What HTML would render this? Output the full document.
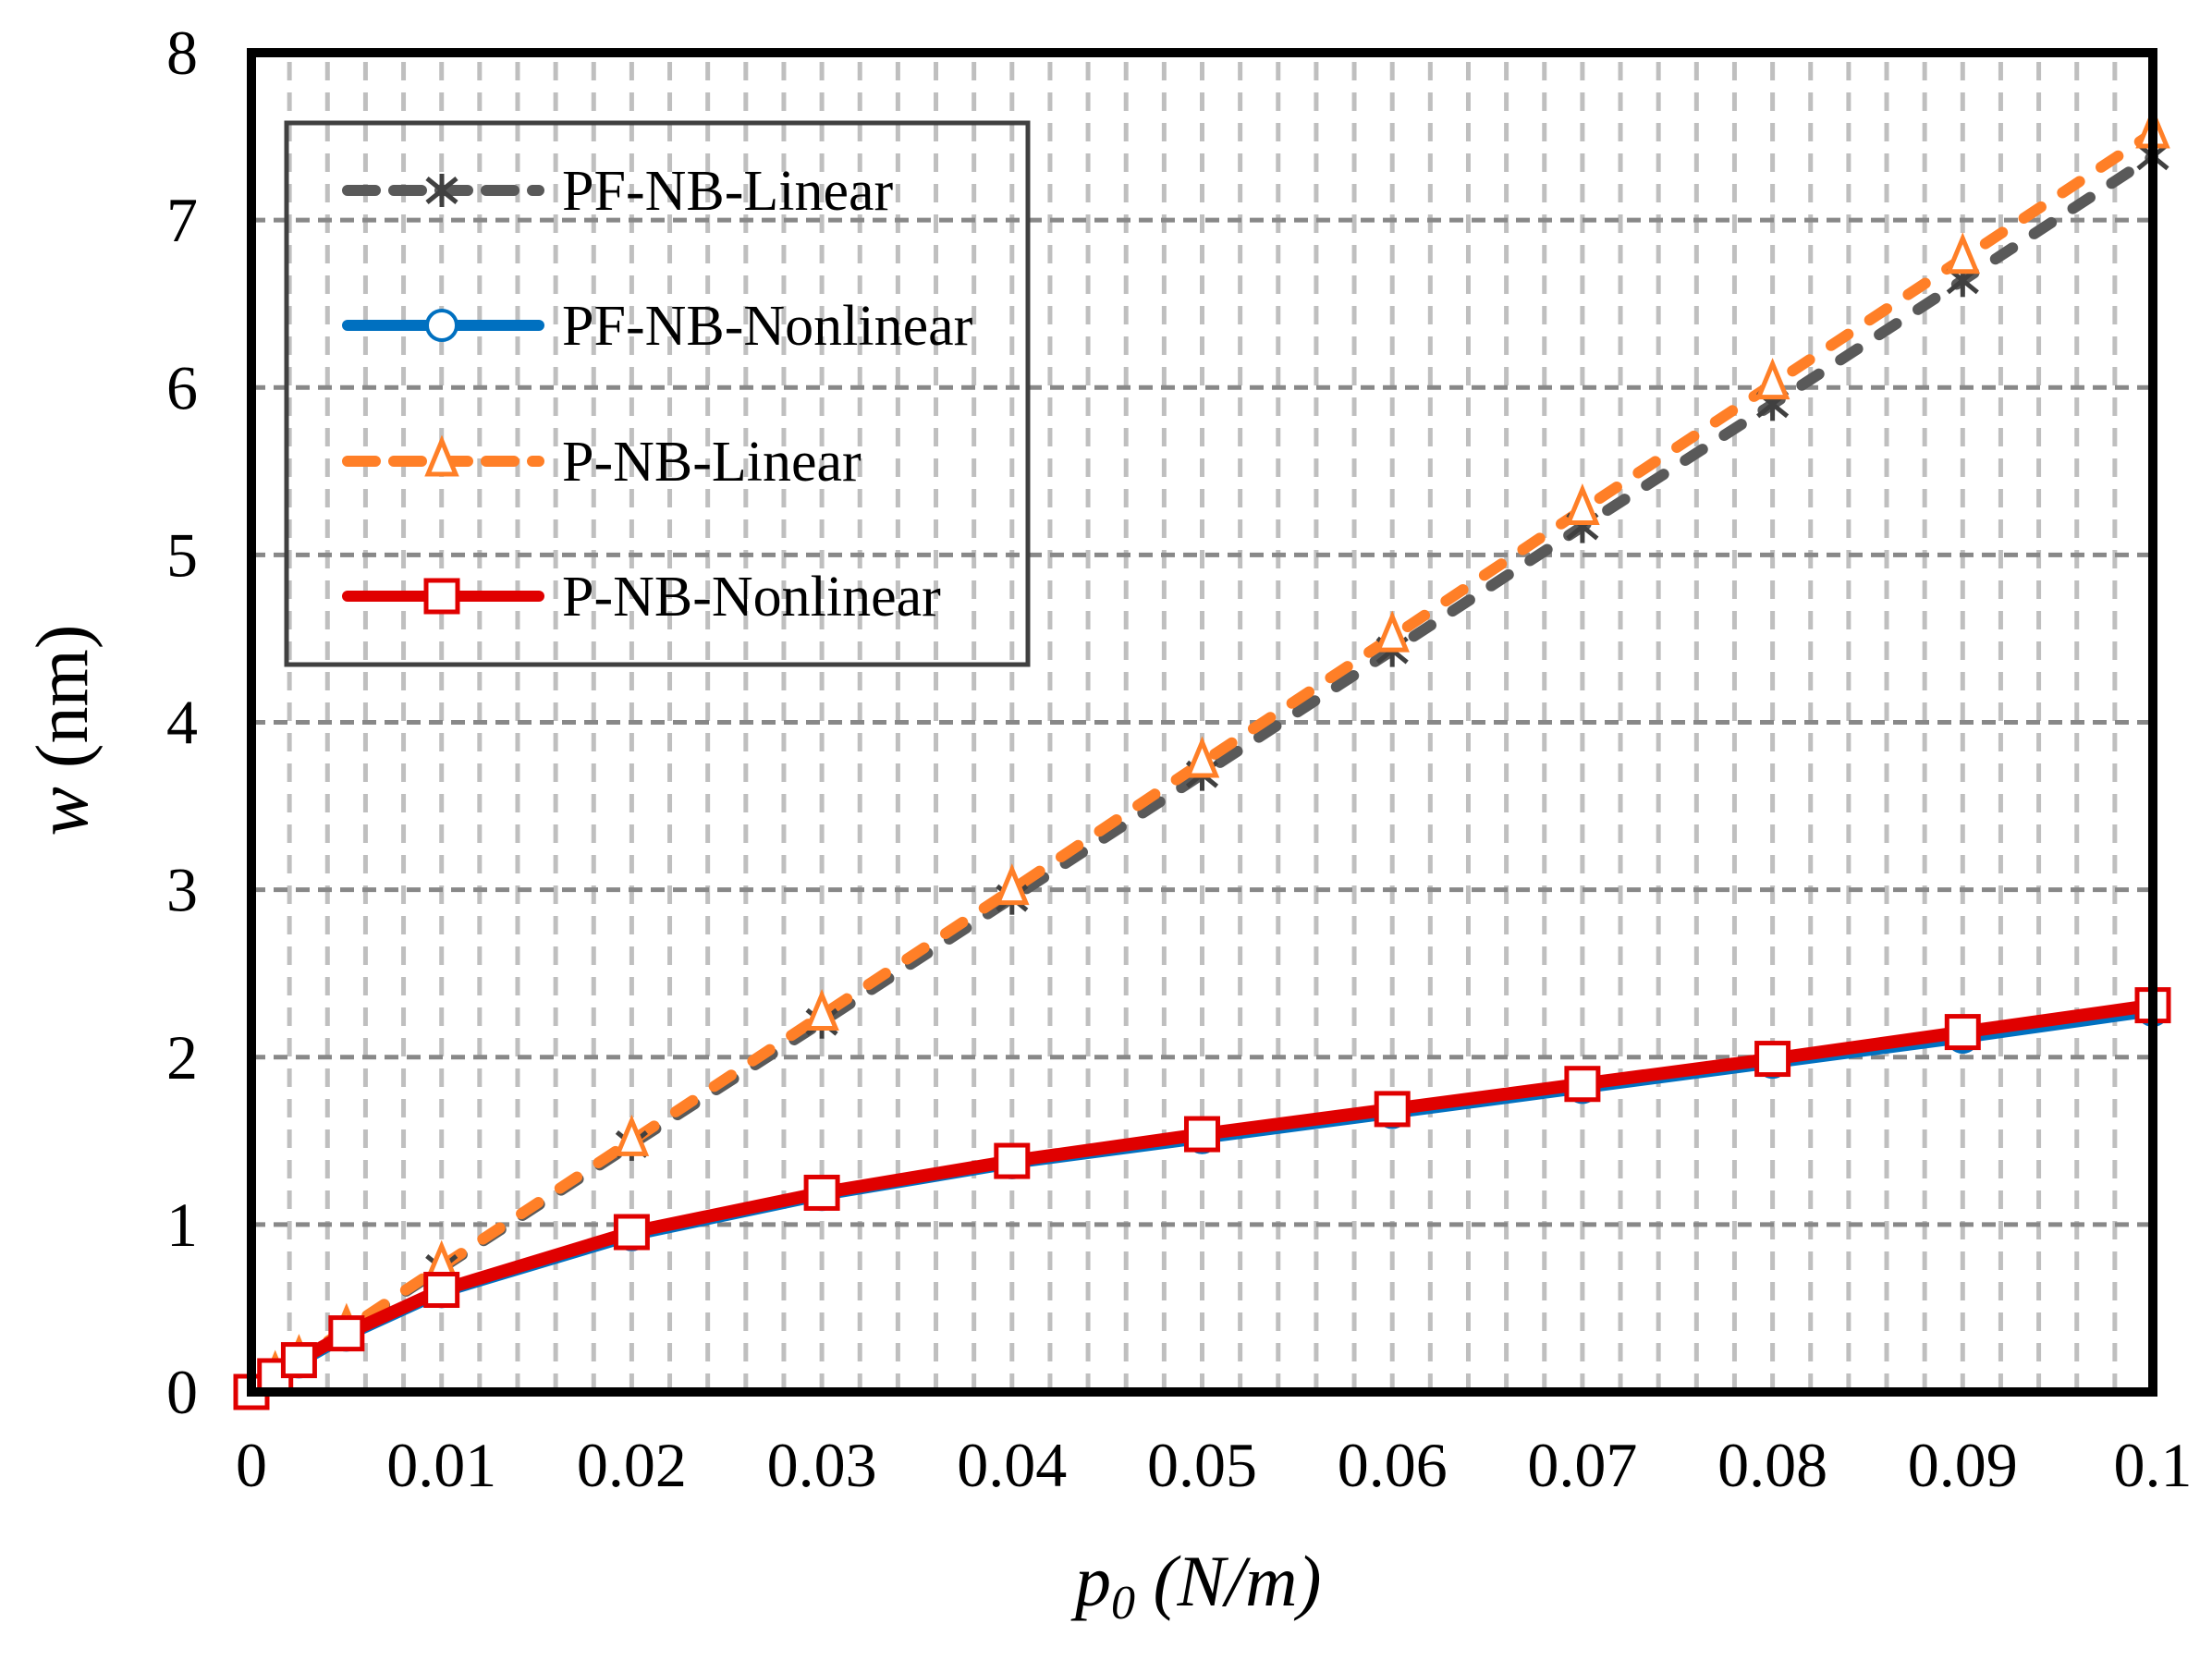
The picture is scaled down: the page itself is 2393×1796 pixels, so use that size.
<!DOCTYPE html>
<html><head><meta charset="utf-8"><style>
html,body{margin:0;padding:0;background:#fff;}
svg{display:block;}
text{font-family:"Liberation Serif",serif;fill:#000;}
</style></head><body>
<svg id="chart" width="2393" height="1796" viewBox="0 0 2393 1796" xmlns="http://www.w3.org/2000/svg">
<g id="grid"></g>
<g id="series"></g>
<g id="axes"></g>
<g id="legend"></g>
<text x="1163" y="1737" font-size="78" font-style="italic">p<tspan font-size="52" dy="14">0</tspan><tspan dy="-14"> (N/m)</tspan></text>
<text transform="translate(94,790) rotate(-90)" text-anchor="middle" font-size="80"><tspan font-style="italic">w</tspan> (nm)</text>
</svg>
<script>
const xValues = [0, 0.00125, 0.0025, 0.005, 0.01, 0.02, 0.03, 0.04, 0.05, 0.06, 0.07, 0.08, 0.09, 0.1];
const pfLinear = [0, 0.092, 0.185, 0.37, 0.74, 1.48, 2.21, 2.95, 3.69, 4.43, 5.17, 5.9, 6.64, 7.38];
const pfNonlinear = [0, 0.09, 0.18, 0.34, 0.6, 0.94, 1.18, 1.37, 1.52, 1.67, 1.82, 1.97, 2.12, 2.28];
const pLinear = [0, 0.094, 0.19, 0.375, 0.75, 1.5, 2.25, 3.0, 3.76, 4.51, 5.27, 6.02, 6.77, 7.52];
const pNonlinear = [0, 0.094, 0.19, 0.35, 0.61, 0.955, 1.19, 1.38, 1.54, 1.69, 1.84, 1.99, 2.15, 2.31];
const xTicks = ["0","0.01","0.02","0.03","0.04","0.05","0.06","0.07","0.08","0.09","0.1"];
const yTicks = ["0","1","2","3","4","5","6","7","8"];
const legendNames = ["PF-NB-Linear","PF-NB-Nonlinear","P-NB-Linear","P-NB-Nonlinear"];

const NS="http://www.w3.org/2000/svg";
const L=272,R=2329,T=57,B=1506;
const X=v=>L+(v/0.1)*(R-L);
const Y=v=>B-(v/8)*(B-T);
function mk(tag,attrs,parent){const e=document.createElementNS(NS,tag);for(const k in attrs)e.setAttribute(k,attrs[k]);parent.appendChild(e);return e;}
const grid=document.getElementById('grid'),series=document.getElementById('series'),axes=document.getElementById('axes'),legend=document.getElementById('legend');

for(let i=1;i<50;i++){const x=X(i*0.002);
 const g=mk('line',{x1:x,x2:x,y1:T+10,y2:B,stroke:'#bfbfbf','stroke-width':5,'stroke-dasharray':'20 13'},grid);
 
 }
for(let i=1;i<8;i++){const y=Y(i);
 const g=mk('line',{x1:L,x2:R,y1:y,y2:y,stroke:'#888','stroke-width':5,'stroke-dasharray':'15 9'},grid);
 
 }

function pathD(ys){return ys.map((v,i)=>(i?'L':'M')+X(xValues[i])+' '+Y(v)).join(' ');}
function star(cx,cy,parent,name){const g=mk('g',{stroke:'#404040','stroke-width':5},parent);
 
 
 mk('line',{x1:cx,x2:cx,y1:cy-18,y2:cy+18},g);
 mk('line',{x1:cx-16,x2:cx+16,y1:cy-13,y2:cy+13},g);
 mk('line',{x1:cx-16,x2:cx+16,y1:cy+13,y2:cy-13},g);}
function tri(cx,cy,parent,name){const e=mk('polygon',{points:`${cx},${cy-22} ${cx-15},${cy+14} ${cx+15},${cy+14}`,fill:'#fff',stroke:'#ff7f27','stroke-width':5},parent);
 
 }
function circ(cx,cy,parent,name){const e=mk('circle',{cx:cx,cy:cy,r:16,fill:'#fff',stroke:'#0070c0','stroke-width':4},parent);
 
 }
function sq(cx,cy,parent,name){const e=mk('rect',{x:cx-17,y:cy-17,width:34,height:34,fill:'#fff',stroke:'#e00000','stroke-width':5},parent);
 
 }

const defs=[
 {d:pfLinear,color:'#595959',dash:'22 28',m:star,name:'pf-nb-linear'},
 {d:pfNonlinear,color:'#0070c0',dash:null,m:circ,name:'pf-nb-nonlinear'},
 {d:pLinear,color:'#ff7f27',dash:'22 28',m:tri,name:'p-nb-linear'},
 {d:pNonlinear,color:'#e00000',dash:null,m:sq,name:'p-nb-nonlinear'}];
defs.forEach(s=>{
 const a={d:pathD(s.d),fill:'none',stroke:s.color,'stroke-width':s.dash?12:14,'stroke-linecap':'round','stroke-linejoin':'round'};
 if(s.dash)a['stroke-dasharray']=s.dash;
 const p=mk('path',a,series);
 
 
});
defs.forEach(s=>{ s.d.forEach((v,i)=>s.m(X(xValues[i]),Y(v),series,s.name+'-point')); });

const frame=mk('rect',{x:L,y:T,width:R-L,height:B-T,fill:'none',stroke:'#000','stroke-width':10},axes);


xTicks.forEach((t,i)=>{const e=mk('text',{x:X(i*0.01),y:1608,'text-anchor':'middle','font-size':68},axes);e.textContent=t;
 
 });
yTicks.forEach((t,i)=>{const e=mk('text',{x:197,y:Y(i)+23,'text-anchor':'middle','font-size':68},axes);e.textContent=t;
 
 });

const lb=mk('rect',{x:310,y:133,width:802,height:586,fill:'none',stroke:'#404040','stroke-width':5},legend);


const ly=[206,352,499,645];
defs.forEach((s,i)=>{
 const g=mk('g',{},legend);
 
 
 const a={x1:376,x2:583,y1:ly[i],y2:ly[i],stroke:s.color,'stroke-width':12,'stroke-linecap':'round'};
 if(s.dash)a['stroke-dasharray']='30 20';
 mk('line',a,g);
 s.m(478,ly[i],g,'legend-marker');
 const t=mk('text',{x:608,y:ly[i]+21,'font-size':62},g);t.textContent=legendNames[i];
});
</script>
</body></html>
